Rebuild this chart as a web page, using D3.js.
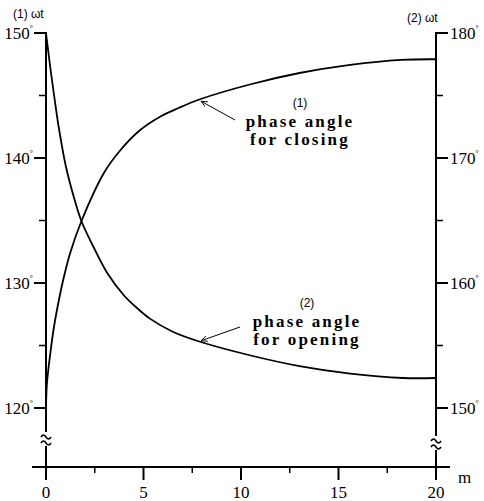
<!DOCTYPE html>
<html lang="en">
<head>
<meta charset="UTF-8">
<title>Phase angle vs m</title>
<script src="https://d3js.org/d3.v7.min.js"></script>
<style>
  body { margin: 0; background: #fff; }
  svg text { fill: #000; }
  .tick-label { font-family: "Liberation Serif", "DejaVu Serif", serif; font-size: 17px; }
  .axis-title { font-family: "Liberation Sans", Arial, sans-serif; font-size: 12px; }
  .note { font-family: "Liberation Serif", serif; font-size: 17px; font-weight: bold; letter-spacing: 2.2px; }
  .note-num { font-family: "Liberation Sans", sans-serif; font-size: 12px; }
</style>
</head>
<body>
<script>
// m values and phase angles
const mClosing = [0, 0.05, 0.24, 0.41, 0.67, 0.92, 1.26, 1.83, 2.97, 3.8, 4.8, 5.85, 6.8, 7.9, 10.5, 13, 15.6, 18.2, 20];
const closingDeg = [120, 122, 124.6, 126.5, 128.7, 130.5, 132.5, 135.0, 138.8, 140.6, 142.2, 143.3, 144.0, 144.7, 145.9, 146.8, 147.45, 147.85, 147.9];

const mOpening = [0, 0.24, 0.46, 0.67, 1.01, 1.44, 1.83, 2.43, 3.14, 4.0, 4.7, 5.33, 6.5, 7.9, 10.5, 13, 15.6, 18.3, 20];
const openingDeg = [180, 177.0, 174.5, 172.3, 169.4, 166.8, 164.9, 162.9, 160.8, 159.0, 157.95, 157.15, 156.1, 155.3, 154.2, 153.35, 152.75, 152.4, 152.4];

const xTicks = [0, 5, 10, 15, 20];
const xMinorTicks = [2.5, 7.5, 12.5, 17.5];
const leftTicks = [120, 130, 140, 150];
const leftMinor = [125, 135, 145];
const rightTicks = [150, 160, 170, 180];
const rightMinor = [155, 165, 175];

const width = 484, height = 501;
const svg = d3.select("body").append("svg")
    .attr("width", width)
    .attr("height", height);

const x = d3.scaleLinear().domain([0, 20]).range([46, 436]);
const yL = d3.scaleLinear().domain([120, 150]).range([408, 33]);
const yR = d3.scaleLinear().domain([150, 180]).range([408, 33]);
const baseY = 467;

// x axis
const xAxis = svg.append("g").attr("transform", `translate(0,${baseY})`);
xAxis.append("line").attr("x1", 32).attr("x2", 450).attr("stroke", "#000").attr("stroke-width", 2);
xAxis.selectAll(".maj").data(xTicks).enter().append("line")
    .attr("x1", d => x(d)).attr("x2", d => x(d)).attr("y1", 0).attr("y2", 13)
    .attr("stroke", "#000").attr("stroke-width", 2);
xAxis.selectAll(".min").data(xMinorTicks).enter().append("line")
    .attr("x1", d => x(d)).attr("x2", d => x(d)).attr("y1", 0).attr("y2", 6)
    .attr("stroke", "#000").attr("stroke-width", 1.5);
xAxis.selectAll(".lab").data(xTicks).enter().append("text")
    .attr("class", "tick-label")
    .attr("x", d => x(d)).attr("y", 31)
    .attr("text-anchor", "middle")
    .text(d => d);
xAxis.append("text").attr("class", "tick-label").attr("x", 458).attr("y", 16).text("m");

// vertical axes
function vAxis(xPos, scale, major, minor, dir) {
  const g = svg.append("g");
  g.append("line").attr("x1", xPos).attr("x2", xPos).attr("y1", scale(scale.domain()[1]) - 1).attr("y2", baseY + 13)
      .attr("stroke", "#000").attr("stroke-width", 2);
  g.selectAll(".maj").data(major).enter().append("line")
      .attr("x1", xPos).attr("x2", xPos + dir * 12)
      .attr("y1", d => scale(d)).attr("y2", d => scale(d))
      .attr("stroke", "#000").attr("stroke-width", 2);
  g.selectAll(".min").data(minor).enter().append("line")
      .attr("x1", xPos).attr("x2", xPos + dir * 7)
      .attr("y1", d => scale(d)).attr("y2", d => scale(d))
      .attr("stroke", "#000").attr("stroke-width", 1.5);
  const lab = g.selectAll(".lab").data(major).enter().append("text")
      .attr("class", "tick-label")
      .attr("x", dir < 0 ? xPos - 13 : xPos + 14)
      .attr("y", d => scale(d) + 6)
      .attr("text-anchor", dir < 0 ? "end" : "start");
  lab.append("tspan").text(d => d);
  lab.append("tspan").attr("dy", -8).attr("font-size", 8).text("°");
  return g;
}
vAxis(x(0), yL, leftTicks, leftMinor, -1);
vAxis(x(20), yR, rightTicks, rightMinor, 1);

// axis break marks
function breakMark(xPos, yPos) {
  svg.append("rect").attr("x", xPos - 5).attr("y", yPos - 7).attr("width", 10).attr("height", 14).attr("fill", "#fff");
  [-3, 3].forEach(off => {
    svg.append("path")
      .attr("d", `M${xPos - 5},${yPos + off + 1} q2.5,-4 5,0 t5,0`)
      .attr("fill", "none").attr("stroke", "#000").attr("stroke-width", 1.6);
  });
}
breakMark(x(0), 439);
breakMark(x(20), 443);

// axis titles
svg.append("text").attr("class", "axis-title").attr("x", 13).attr("y", 18).text("(1) ωt");
svg.append("text").attr("class", "axis-title").attr("x", 407).attr("y", 22).text("(2) ωt");

// curves
const lineL = d3.line().x((d, i) => x(mClosing[i])).y(d => yL(d)).curve(d3.curveCatmullRom.alpha(0.5));
const lineR = d3.line().x((d, i) => x(mOpening[i])).y(d => yR(d)).curve(d3.curveCatmullRom.alpha(0.5));
svg.append("path").attr("d", lineL(closingDeg)).attr("fill", "none").attr("stroke", "#000").attr("stroke-width", 1.8);
svg.append("path").attr("d", lineR(openingDeg)).attr("fill", "none").attr("stroke", "#000").attr("stroke-width", 1.8);

// annotations
svg.append("defs").append("marker")
    .attr("id", "arr").attr("viewBox", "0 0 10 10").attr("refX", 9).attr("refY", 5)
    .attr("markerWidth", 7).attr("markerHeight", 7).attr("orient", "auto")
  .append("path").attr("d", "M0,1 L9,5 L0,9").attr("fill", "none").attr("stroke", "#000").attr("stroke-width", 1.2);

function note(cx, cy, num, l1, l2, from, to) {
  svg.append("text").attr("class", "note-num").attr("x", cx).attr("y", cy).attr("text-anchor", "middle").text(num);
  svg.append("text").attr("class", "note").attr("x", cx).attr("y", cy + 20).attr("text-anchor", "middle").text(l1);
  svg.append("text").attr("class", "note").attr("x", cx).attr("y", cy + 38).attr("text-anchor", "middle").text(l2);
  svg.append("line").attr("x1", from[0]).attr("y1", from[1]).attr("x2", to[0]).attr("y2", to[1])
      .attr("stroke", "#000").attr("stroke-width", 1).attr("marker-end", "url(#arr)");
}
note(300, 107, "(1)", "phase angle", "for closing", [235, 120], [x(7.9) + 1, yL(144.7) + 2]);
note(307, 307, "(2)", "phase angle", "for opening", [240, 327], [x(7.9) + 1, yR(155.3) - 1]);
</script>
</body>
</html>
